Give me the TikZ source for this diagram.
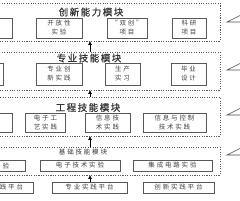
\documentclass[tikz,border=0pt]{standalone}
\usepackage{fontspec}
\newfontfamily\cjkT[LetterSpace=16,FakeBold=0.6]{Noto Sans CJK SC}
\newfontfamily\cjkB[LetterSpace=28]{Noto Sans CJK SC}
\usetikzlibrary{arrows.meta}
\begin{document}
\begin{tikzpicture}[x=1pt,y=-1pt,
  module/.style={draw=black!65, dash pattern=on 1.1pt off 1.3pt, line width=0.8pt, inner sep=0pt},
  ibox/.style={draw=black!65, line width=0.9pt, inner sep=0pt, align=center,
    font=\cjkB\fontsize{6.5}{9}\selectfont, text=black!75},
  ttl/.style={font=\cjkT\fontsize{9.5}{10}\selectfont, text=black!80, inner sep=0pt},
  upar/.style={-{Triangle[length=3.5pt,width=3.5pt]}, line width=0.7pt, draw=black},
  wedge/.style={draw=black!70, line width=0.6pt}]
\useasboundingbox (0,0) rectangle (240,200);
\clip (0,0) rectangle (240,200);
% module frames
\node[module, minimum width=280pt, minimum height=38pt] (M1) at (80,22) {};
\node[module, minimum width=280pt, minimum height=38pt] (M2) at (80,71) {};
\node[module, minimum width=280pt, minimum height=39pt] (M3) at (80,116.5) {};
\node[module, minimum width=280pt, minimum height=28pt] (M4) at (80,161) {};
% titles
\node[ttl] (T1) at (91,12) {创新能力模块};
\node[ttl] (T2) at (89,58) {专业技能模块};
\node[ttl] (T3) at (88,107.5) {工程技能模块};
\node[ttl, font=\cjkB\fontsize{6.5}{8}\selectfont] (T4) at (83,152.5) {基础技能模块};
% row 1
\node[ibox, minimum width=52pt, minimum height=20pt] (A1) at (-14,28) {};
\node[ibox, minimum width=46pt, minimum height=20pt] (B1) at (59,28) {开放性\\实验};
\node[ibox, minimum width=40pt, minimum height=20pt] (C1) at (127,28) {“双创”\\项目};
\node[ibox, minimum width=34pt, minimum height=20pt] (D1) at (189,28) {科研\\项目};
% row 2
\node[ibox, minimum width=43pt, minimum height=22pt] (A2) at (-18.5,74) {};
\node[ibox, minimum width=46pt, minimum height=22pt] (B2) at (59,74) {专业创\\新实践};
\node[ibox, minimum width=35pt, minimum height=22pt] (C2) at (122.5,74) {生产\\实习};
\node[ibox, minimum width=35pt, minimum height=22pt] (D2) at (188.5,74) {毕业\\设计};
% row 3
\node[ibox, minimum width=52pt, minimum height=19pt] (A3) at (-14,122.5) {};
\node[ibox, minimum width=40pt, minimum height=19pt] (B3) at (45.5,122.5) {电子工\\艺实践};
\node[ibox, minimum width=45pt, minimum height=19pt] (C3) at (107.5,122.5) {信息技\\术实践};
\node[ibox, minimum width=63pt, minimum height=19pt] (D3) at (174.5,122.5) {信息与控制\\技术实践};
% row 4
\node[ibox, minimum width=80pt, minimum height=11pt] (A4) at (-15,165.5) {电工基础实验};
\node[ibox, minimum width=80pt, minimum height=11pt] (B4) at (80,165.5) {电子技术实验};
\node[ibox, minimum width=79pt, minimum height=11pt] (C4) at (172.5,165.5) {集成电路实验};
% platforms
\node[ibox, minimum width=68pt, minimum height=11pt] (P1) at (-1,187.5) {基础实践平台};
\node[ibox, minimum width=75pt, minimum height=11pt] (P2) at (89.5,187.5) {专业实践平台};
\node[ibox, minimum width=71pt, minimum height=11pt] (P3) at (178.5,187.5) {创新实践平台};
% arrows
\coordinate (ax) at (90,0);
\draw[upar] (M2.north -| ax) -- (M1.south -| ax);
\draw[upar] (M3.north -| ax) -- (M2.south -| ax);
\draw[upar] (M4.north -| ax) -- (M3.south -| ax);
\draw[upar] (P2.north -| ax) -- (M4.south -| ax);
% right wedges
\coordinate (w1) at (227,22);  \coordinate (w1a) at (241,15);  \coordinate (w1b) at (241,22);
\coordinate (w2) at (227,70);  \coordinate (w2a) at (241,63);  \coordinate (w2b) at (241,70);
\coordinate (w3) at (227,115); \coordinate (w3a) at (241,108); \coordinate (w3b) at (241,115);
\coordinate (w4) at (227,155); \coordinate (w4a) at (241,148); \coordinate (w4b) at (241,155);
\draw[wedge] (w1a) -- (w1) -- (w1b);
\draw[wedge] (w2a) -- (w2) -- (w2b);
\draw[wedge] (w3a) -- (w3) -- (w3b);
\draw[wedge] (w4a) -- (w4) -- (w4b);
\end{tikzpicture}
\end{document}
